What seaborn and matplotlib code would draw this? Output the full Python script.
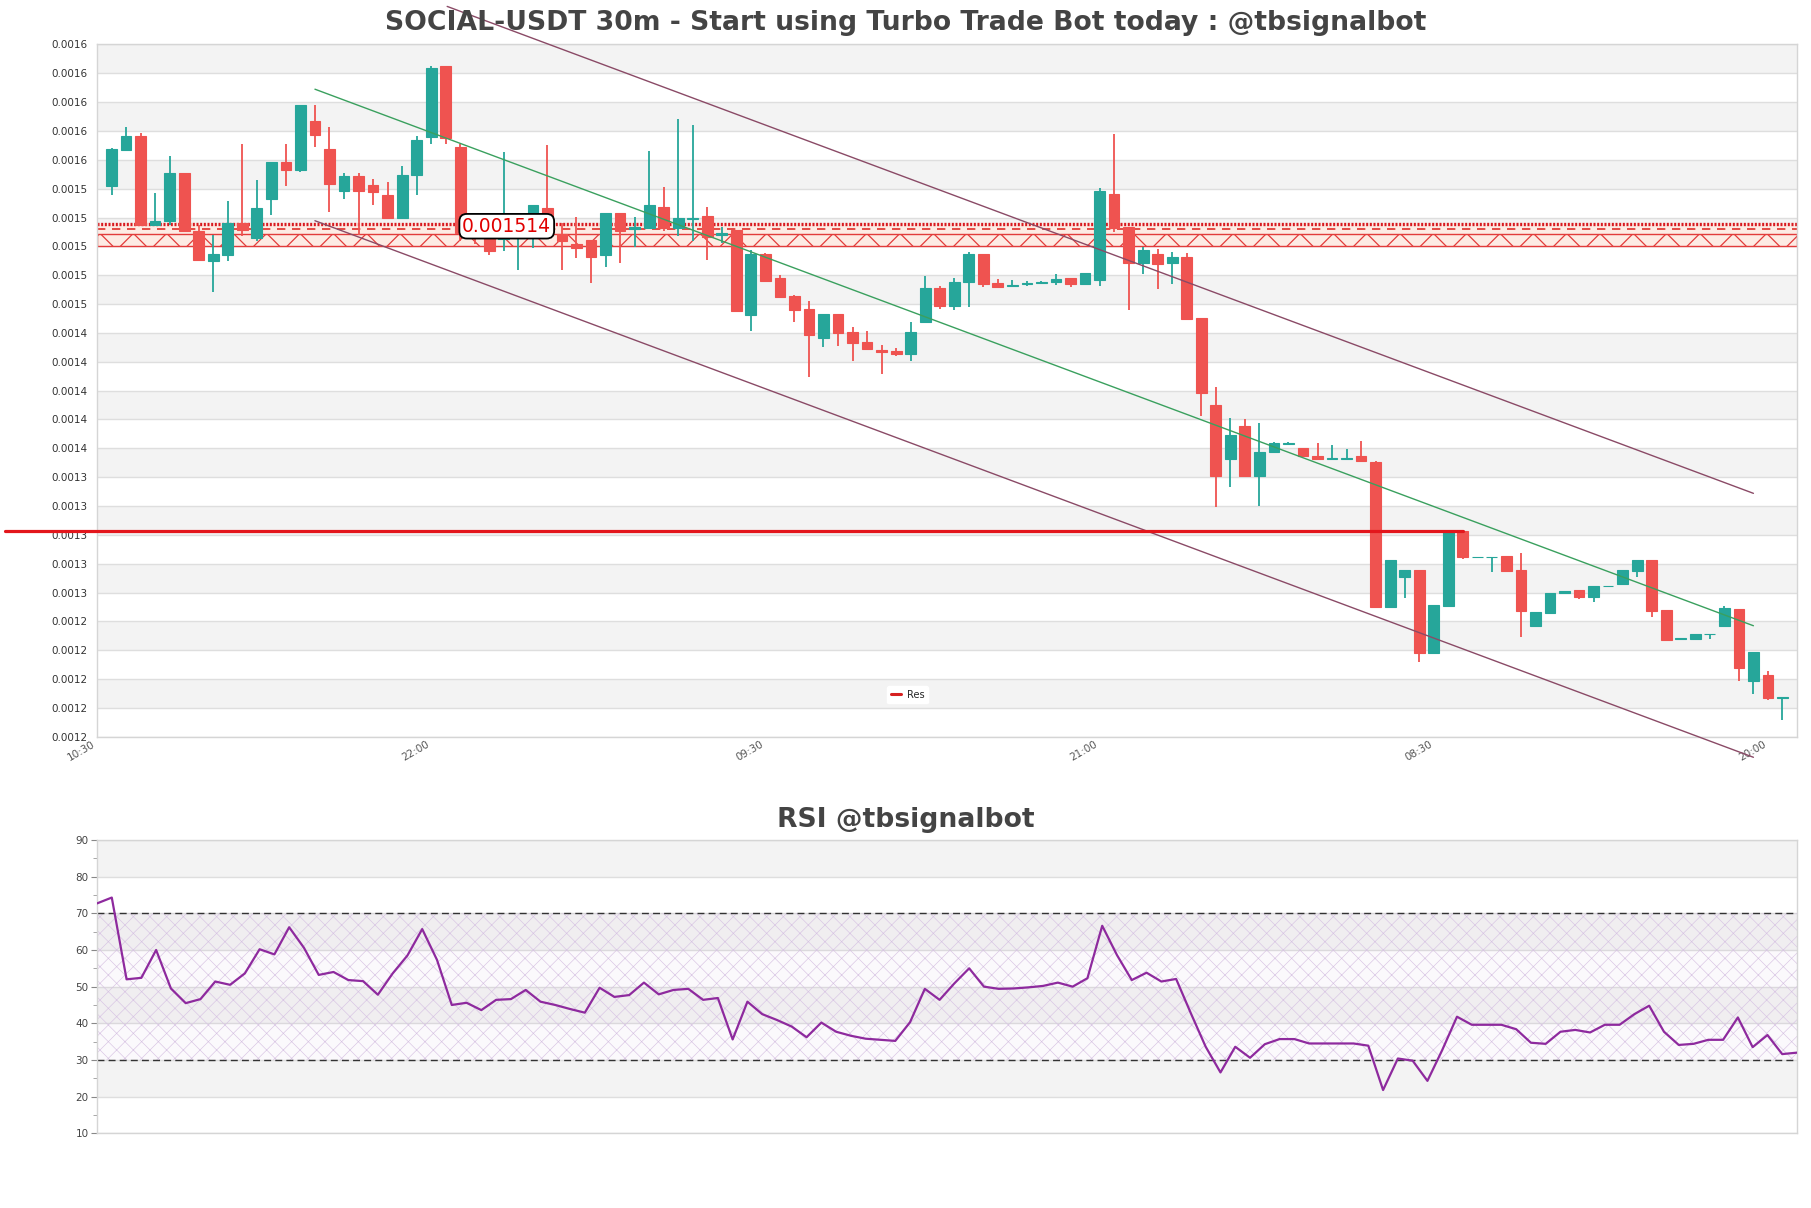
import numpy as np
import pandas as pd
import matplotlib
matplotlib.use("Agg")
import matplotlib.pyplot as plt
from matplotlib.lines import Line2D
from matplotlib.ticker import MultipleLocator, FormatStrFormatter
import seaborn as sns

# ---------------- data ----------------
open_ = [0.0015416, 0.0015669, 0.0015766, 0.0015146, 0.0015173, 0.0015510, 0.0015109, 0.0014897, 0.0014943, 0.0015160,
         0.0015058, 0.0015330, 0.0015582, 0.0015531, 0.0015870, 0.0015676, 0.0015381, 0.0015490, 0.0015427, 0.0015358,
         0.0015199, 0.0015492, 0.0015762, 0.0016251, 0.0015690, 0.0015090, 0.0015090, 0.0015050, 0.0015055, 0.0015070,
         0.0015264, 0.0015089, 0.0015015, 0.0015043, 0.0014941, 0.0015230, 0.0015119, 0.0015130, 0.0015271, 0.0015130,
         0.0015193, 0.0015209, 0.0015080, 0.0015112, 0.0014526, 0.0014946, 0.0014780, 0.0014655, 0.0014565, 0.0014367,
         0.0014531, 0.0014406, 0.0014337, 0.0014279, 0.0014275, 0.0014256, 0.0014478, 0.0014710, 0.0014588, 0.0014750,
         0.0014946, 0.0014745, 0.0014728, 0.0014742, 0.0014748, 0.0014750, 0.0014778, 0.0014741, 0.0014766, 0.0015362,
         0.0015138, 0.0014886, 0.0014944, 0.0014886, 0.0014926, 0.0014503, 0.0013900, 0.0013526, 0.0013755, 0.0013411,
         0.0013572, 0.0013628, 0.0013600, 0.0013547, 0.0013528, 0.0013528, 0.0013547, 0.0013503, 0.0012503, 0.0012711,
         0.0012757, 0.0012184, 0.0012510, 0.0013027, 0.0012847, 0.0012847, 0.0012854, 0.0012757, 0.0012371, 0.0012457,
         0.0012595, 0.0012616, 0.0012572, 0.0012644, 0.0012658, 0.0012752, 0.0012826, 0.0012480, 0.0012279, 0.0012281,
         0.0012312, 0.0012369, 0.0012487, 0.0011990, 0.0012030, 0.0011870]
high = [0.0015680, 0.0015829, 0.0015785, 0.0015372, 0.0015628, 0.0015510, 0.0015150, 0.0015081, 0.0015312, 0.0015711,
        0.0015462, 0.0015582, 0.0015711, 0.0015981, 0.0015981, 0.0015829, 0.0015510, 0.0015510, 0.0015469, 0.0015450,
        0.0015559, 0.0015766, 0.0016251, 0.0016251, 0.0015713, 0.0015130, 0.0015100, 0.0015653, 0.0015224, 0.0015290,
        0.0015700, 0.0015160, 0.0015206, 0.0015043, 0.0015230, 0.0015230, 0.0015202, 0.0015659, 0.0015409, 0.0015880,
        0.0015839, 0.0015273, 0.0015135, 0.0015112, 0.0014976, 0.0014957, 0.0014800, 0.0014660, 0.0014623, 0.0014531,
        0.0014531, 0.0014438, 0.0014411, 0.0014318, 0.0014295, 0.0014475, 0.0014794, 0.0014726, 0.0014778, 0.0014958,
        0.0014946, 0.0014773, 0.0014766, 0.0014760, 0.0014762, 0.0014812, 0.0014778, 0.0014815, 0.0015408, 0.0015780,
        0.0015138, 0.0014993, 0.0014981, 0.0014958, 0.0014953, 0.0014503, 0.0014023, 0.0013808, 0.0013803, 0.0013776,
        0.0013646, 0.0013646, 0.0013600, 0.0013635, 0.0013623, 0.0013595, 0.0013650, 0.0013515, 0.0012826, 0.0012757,
        0.0012757, 0.0012515, 0.0013027, 0.0013027, 0.0012850, 0.0012850, 0.0012854, 0.0012873, 0.0012464, 0.0012595,
        0.0012614, 0.0012616, 0.0012646, 0.0012647, 0.0012757, 0.0012826, 0.0012826, 0.0012480, 0.0012283, 0.0012311,
        0.0012314, 0.0012508, 0.0012487, 0.0012187, 0.0012057, 0.0011875]
low = [0.0015353, 0.0015662, 0.0015150, 0.0015146, 0.0015150, 0.0015104, 0.0014904, 0.0014682, 0.0014897, 0.0015070,
       0.0015035, 0.0015220, 0.0015420, 0.0015513, 0.0015686, 0.0015238, 0.0015326, 0.0015081, 0.0015284, 0.0015192,
       0.0015192, 0.0015353, 0.0015713, 0.0015713, 0.0015040, 0.0015020, 0.0014943, 0.0014966, 0.0014834, 0.0014992,
       0.0015070, 0.0014837, 0.0014920, 0.0014743, 0.0014858, 0.0014886, 0.0014997, 0.0015130, 0.0015107, 0.0015073,
       0.0015038, 0.0014907, 0.0015027, 0.0014549, 0.0014415, 0.0014761, 0.0014650, 0.0014477, 0.0014092, 0.0014300,
       0.0014311, 0.0014203, 0.0014279, 0.0014118, 0.0014242, 0.0014208, 0.0014478, 0.0014565, 0.0014561, 0.0014582,
       0.0014722, 0.0014720, 0.0014722, 0.0014727, 0.0014740, 0.0014734, 0.0014720, 0.0014741, 0.0014727, 0.0015100,
       0.0014561, 0.0014808, 0.0014704, 0.0014739, 0.0014496, 0.0013826, 0.0013191, 0.0013330, 0.0013411, 0.0013198,
       0.0013572, 0.0013620, 0.0013545, 0.0013528, 0.0013528, 0.0013528, 0.0013510, 0.0012503, 0.0012503, 0.0012565,
       0.0012122, 0.0012184, 0.0012510, 0.0012836, 0.0012847, 0.0012745, 0.0012745, 0.0012295, 0.0012371, 0.0012452,
       0.0012595, 0.0012554, 0.0012533, 0.0012644, 0.0012658, 0.0012706, 0.0012434, 0.0012272, 0.0012279, 0.0012277,
       0.0012277, 0.0012364, 0.0011990, 0.0011898, 0.0011857, 0.0011713]
close = [0.0015676, 0.0015766, 0.0015150, 0.0015178, 0.0015510, 0.0015104, 0.0014904, 0.0014947, 0.0015160, 0.0015111,
         0.0015268, 0.0015582, 0.0015531, 0.0015981, 0.0015773, 0.0015436, 0.0015490, 0.0015381, 0.0015374, 0.0015199,
         0.0015496, 0.0015739, 0.0016239, 0.0015755, 0.0015090, 0.0015060, 0.0014970, 0.0015067, 0.0015070, 0.0015285,
         0.0015100, 0.0015038, 0.0014990, 0.0014927, 0.0015230, 0.0015107, 0.0015133, 0.0015285, 0.0015130, 0.0015197,
         0.0015200, 0.0015066, 0.0015090, 0.0014549, 0.0014946, 0.0014761, 0.0014650, 0.0014560, 0.0014388, 0.0014531,
         0.0014401, 0.0014332, 0.0014291, 0.0014270, 0.0014254, 0.0014406, 0.0014710, 0.0014588, 0.0014752, 0.0014946,
         0.0014739, 0.0014720, 0.0014732, 0.0014746, 0.0014752, 0.0014773, 0.0014739, 0.0014815, 0.0015383, 0.0015127,
         0.0014886, 0.0014974, 0.0014879, 0.0014926, 0.0014496, 0.0013986, 0.0013411, 0.0013692, 0.0013411, 0.0013575,
         0.0013635, 0.0013640, 0.0013545, 0.0013528, 0.0013530, 0.0013532, 0.0013510, 0.0012503, 0.0012826, 0.0012757,
         0.0012184, 0.0012515, 0.0013027, 0.0012849, 0.0012849, 0.0012849, 0.0012752, 0.0012475, 0.0012464, 0.0012595,
         0.0012614, 0.0012572, 0.0012646, 0.0012646, 0.0012757, 0.0012826, 0.0012475, 0.0012272, 0.0012283, 0.0012311,
         0.0012314, 0.0012491, 0.0012080, 0.0012187, 0.0011866, 0.0011873]
rsi = [72.7, 74.3, 52.0, 52.4, 60.0, 49.5, 45.5, 46.6, 51.4, 50.5,
       53.6, 60.2, 58.8, 66.2, 60.6, 53.2, 54.0, 51.8, 51.5, 47.8,
       53.6, 58.5, 65.7, 57.3, 45.0, 45.6, 43.6, 46.4, 46.6, 49.1,
       45.9, 45.0, 43.9, 42.9, 49.7, 47.2, 47.7, 51.1, 47.9, 49.1,
       49.4, 46.4, 46.9, 35.6, 45.9, 42.5, 40.9, 39.1, 36.2, 40.2,
       37.7, 36.6, 35.8, 35.5, 35.2, 40.3, 49.4, 46.4, 50.9, 55.0,
       50.0, 49.4, 49.5, 49.8, 50.2, 51.1, 50.0, 52.3, 66.6, 58.6,
       51.8, 53.8, 51.4, 52.1, 42.7, 33.6, 26.6, 33.6, 30.6, 34.3,
       35.7, 35.7, 34.5, 34.5, 34.5, 34.5, 33.9, 21.8, 30.4, 29.8,
       24.3, 32.7, 41.8, 39.6, 39.6, 39.6, 38.4, 34.7, 34.4, 37.7,
       38.2, 37.5, 39.6, 39.6, 42.5, 44.8, 37.7, 34.1, 34.4, 35.5,
       35.5, 41.6, 33.5, 36.8, 31.6, 32.0]

tick_index = [-1, 22, 45, 68, 91, 114]
tick_labels = ["10:30", "22:00", "09:30", "21:00", "08:30", "20:00"]

res_level = 0.0013027
res_end_index = 93
zone_label = "0.001514"
zone_label_pos = (27.2, 0.0015140)
zone_top, zone_dot, zone_dash, zone_hatch_top, zone_bottom = 0.0015164, 0.0015153, 0.0015123, 0.0015086, 0.0015003

trend_x = [14, 113]
trend_mid = [0.0016090, 0.0012370]
trend_up_x = [23.1, 113]
trend_up = [0.0016664, 0.0013288]
trend_low = [0.0015178, 0.0011458]

title_main = "SOCIAL-USDT 30m - Start using Turbo Trade Bot today : @tbsignalbot"
title_rsi = "RSI @tbsignalbot"

# ---------------- style ----------------
sns.set_theme(style="white")
plt.rcParams['font.family'] = ['DejaVu Sans']

UP, DOWN = '#26a69a', '#ef5350'
GRID = '#dedede'
BAND = '#f3f3f3'
TXT = '#444444'

fig = plt.figure(figsize=(18.11, 12.08), dpi=100)
fig.patch.set_facecolor('white')
ax = fig.add_axes([0.05356, 0.39007, 0.93871, 0.57310])
ax2 = fig.add_axes([0.05356, 0.06184, 0.93871, 0.24280])

df = pd.DataFrame({'o': open_, 'h': high, 'l': low, 'c': close})
df['x'] = np.arange(len(df))
df['up'] = df['c'] >= df['o']
cols = np.where(df['up'], UP, DOWN)

# main axes cosmetics
ax.set_xlim(-1, 116)
ax.set_ylim(0.00116, 0.00164)
ax.set_facecolor('white')
ylo, yhi = ax.get_ylim()
step = 0.00002
edges = np.arange(ylo, yhi + step / 2, step)
for k in range(len(edges) - 1):
    if k % 2 == 1:
        ax.axhspan(edges[k], edges[k + 1], color=BAND, lw=0, zorder=0)
ax.yaxis.set_major_locator(MultipleLocator(step))
ax.yaxis.set_major_formatter(FormatStrFormatter('%.4f'))
ax.grid(axis='y', color=GRID, lw=1.0, zorder=0.5)
ax.grid(axis='x', visible=False)
ax.set_axisbelow(True)
for s in ax.spines.values():
    s.set_color('#d5d5d5')
    s.set_linewidth(1.0)
ax.tick_params(axis='y', length=0, pad=7, labelsize=7.5, labelcolor='#333333')
ax.set_xticks(tick_index)
ax.set_xticklabels(tick_labels, rotation=30, ha='right', fontsize=7.5, color='#555555')
ax.tick_params(axis='x', length=0, pad=2)

# resistance zone
ax.axhspan(zone_bottom, zone_top, color='#fdebe4', lw=0, zorder=1)
ax.axhline(zone_dot, color='#d71920', lw=2.4, ls=(0, (0.6, 0.5)), zorder=2)
ax.axhline(zone_dash, color='#e0302a', lw=1.2, ls=(0, (5, 4)), zorder=2)
with plt.rc_context({'hatch.linewidth': 0.9}):
    ax.axhspan(zone_bottom, zone_hatch_top, facecolor='none', edgecolor='#e23b3b', hatch='x', lw=1.0, zorder=2)

# candles
ax.vlines(df['x'], df['l'], df['h'], colors=cols, lw=1.3, zorder=3)
ax.bar(df['x'], (df['c'] - df['o']).abs(), bottom=np.minimum(df['o'], df['c']), width=0.74,
       color=cols, edgecolor=cols, linewidth=0.8, zorder=4)

# trend channel
sns.lineplot(x=trend_x, y=trend_mid, ax=ax, color='#3aa05e', lw=1.0, zorder=5, legend=False)
ax.plot(trend_up_x, trend_up, color='#8a4a66', lw=1.0, zorder=5)
ax.plot(trend_x, trend_low, color='#8a4a66', lw=1.0, zorder=5)
for l in ax.lines:
    l.set_clip_on(False)

# resistance line
res_line, = ax.plot([-7.3, res_end_index], [res_level, res_level], color='#e3161c', lw=2.3,
                    zorder=6, clip_on=False, label='Res')

ax.text(zone_label_pos[0], zone_label_pos[1], zone_label, color='#e00000', fontsize=13.5,
        ha='center', va='center', zorder=8,
        bbox=dict(boxstyle='round,pad=0.15,rounding_size=0.4', fc='white', ec='black', lw=1.3))

leg = ax.legend(handles=[Line2D([0], [0], color='#d62020', lw=2.2)], labels=['Res'],
                loc='center', bbox_to_anchor=(0.477, 0.061), fontsize=7, frameon=True,
                framealpha=1, edgecolor='white', facecolor='white', handlelength=1.0,
                handletextpad=0.6, borderpad=0.4)
leg.set_zorder(9)

# ---------------- RSI ----------------
ax2.set_xlim(0, len(rsi) - 1)
ax2.set_ylim(10, 90)
for lo in (20, 40, 60, 80):
    ax2.axhspan(lo, lo + 10, color=BAND, lw=0, zorder=0)
with plt.rc_context({'hatch.linewidth': 0.45}):
    ax2.axhspan(30, 70, facecolor=(0.62, 0.4, 0.72, 0.035), edgecolor='#d7c3e3', hatch='xx', lw=0, zorder=0.6)
ax2.yaxis.set_major_locator(MultipleLocator(10))
ax2.yaxis.set_minor_locator(MultipleLocator(5))
ax2.grid(axis='y', which='major', color=GRID, lw=1.0)
ax2.grid(axis='x', visible=False)
ax2.set_axisbelow(True)
ax2.axhline(70, color='#333333', lw=1.0, ls=(0, (5, 3)), zorder=2)
ax2.axhline(30, color='#333333', lw=1.0, ls=(0, (5, 3)), zorder=2)
sns.lineplot(x=np.arange(len(rsi)), y=rsi, ax=ax2, color='#8e2a9e', lw=1.6, zorder=3, legend=False)
ax2.set_xticks([])
ax2.set_xlabel('')
ax2.set_ylabel('')
ax.set_xlabel('')
ax.set_ylabel('')
for s in ax2.spines.values():
    s.set_color('#d5d5d5')
    s.set_linewidth(1.0)
ax2.tick_params(axis='y', which='major', length=4, width=0.8, color='#888888', pad=2,
                labelsize=7.5, labelcolor='#444444', left=True)
ax2.tick_params(axis='y', which='minor', length=3, width=0.6, color='#999999', left=True)

fig.text(0.5, 0.981, title_main, ha='center', va='center', fontsize=19.2, fontweight='bold', color=TXT)
fig.text(0.5, 0.3212, title_rsi, ha='center', va='center', fontsize=19.2, fontweight='bold', color=TXT)

fig.savefig('out.png', dpi=100, facecolor='white')
